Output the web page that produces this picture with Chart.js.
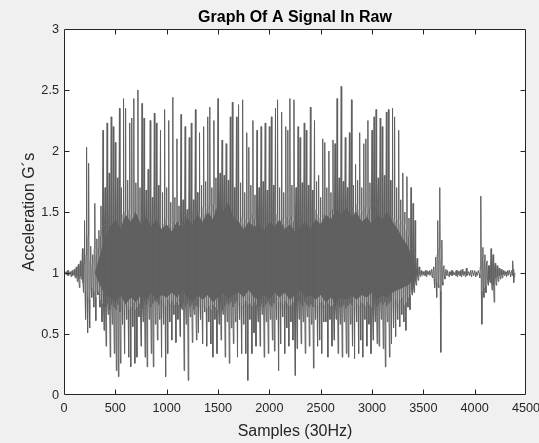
<!DOCTYPE html>
<html>
<head>
<meta charset="utf-8">
<script src="https://cdn.jsdelivr.net/npm/chart.js@4.4.1/dist/chart.umd.min.js"></script>
<style>
  html, body { margin: 0; padding: 0; background: #f0f0f0; }
  #wrap { width: 539px; height: 443px; position: relative; }
</style>
</head>
<body>
<div id="wrap"><canvas id="sig"></canvas></div>
<script>
const titleText = 'Graph Of A Signal In Raw';
const xLabel = 'Samples (30Hz)';
const yLabel = 'Acceleration G´s';
const xTicks = [0, 500, 1000, 1500, 2000, 2500, 3000, 3500, 4000, 4500];
const yTicks = [0, 0.5, 1, 1.5, 2, 2.5, 3];

// readings at samples 0, 10, 20 ... (peaks of the trace)
const sampleStep = 10;
const accel = [
  1.00, 0.99, 1.01, 0.98, 1.02, 0.99, 1.01, 0.97, 1.02, 0.99,
  1.03, 0.96, 1.05, 0.93, 1.07, 0.88, 1.10, 0.95, 1.20, 0.84,
  1.43, 0.62, 2.03, 0.51, 1.90, 0.55, 1.22, 0.80, 1.15, 0.72,
  1.57, 0.61, 1.28, 0.82, 1.35, 0.72, 1.55, 0.60, 2.17, 0.53,
  1.70, 0.40, 2.23, 0.66, 1.82, 0.31, 2.28, 0.58, 2.20, 0.34,
  2.07, 0.20, 1.78, 0.15, 2.35, 0.26, 1.70, 0.58, 2.43, 0.34,
  2.35, 0.62, 1.76, 0.31, 2.23, 0.23, 2.27, 0.56, 2.43, 0.26,
  1.74, 0.31, 2.50, 0.64, 1.70, 0.40, 2.39, 0.60, 2.27, 0.31,
  1.68, 0.23, 1.85, 0.62, 2.25, 0.34, 1.62, 0.23, 2.31, 0.58,
  2.23, 0.45, 1.72, 0.62, 2.17, 0.31, 1.66, 0.58, 2.34, 0.15,
  1.70, 0.34, 2.25, 0.60, 1.58, 0.45, 2.44, 0.66, 1.62, 0.43,
  2.10, 0.62, 1.55, 0.48, 2.30, 0.70, 1.60, 0.20, 2.20, 0.58,
  1.52, 0.12, 2.11, 0.64, 2.23, 0.43, 1.60, 0.66, 2.34, 0.45,
  1.66, 0.51, 2.15, 0.62, 1.72, 0.42, 2.20, 0.68, 1.75, 0.40,
  2.28, 0.60, 2.36, 0.42, 1.70, 0.31, 2.25, 0.62, 1.78, 0.34,
  2.43, 0.58, 1.82, 0.45, 2.09, 0.66, 1.80, 0.31, 2.06, 0.60,
  1.76, 0.26, 2.28, 0.55, 2.40, 0.42, 1.70, 0.60, 2.28, 0.31,
  2.38, 0.62, 1.74, 0.34, 2.42, 0.58, 1.66, 0.34, 2.15, 0.12,
  2.03, 0.62, 1.72, 0.34, 2.25, 0.51, 1.64, 0.40, 2.17, 0.60,
  1.70, 0.40, 2.20, 0.66, 1.75, 0.31, 2.23, 0.60, 1.68, 0.34,
  2.20, 0.62, 2.28, 0.45, 1.72, 0.36, 2.35, 0.62, 2.42, 0.20,
  1.70, 0.42, 2.32, 0.64, 1.66, 0.34, 2.20, 0.55, 2.17, 0.40,
  2.43, 0.60, 1.72, 0.45, 2.42, 0.16, 1.70, 0.38, 2.20, 0.62,
  2.11, 0.42, 1.74, 0.60, 2.23, 0.34, 2.17, 0.64, 1.72, 0.40,
  2.36, 0.58, 1.68, 0.22, 2.25, 0.62, 1.75, 0.40, 1.80, 0.45,
  1.62, 0.34, 2.10, 0.60, 2.07, 0.60, 1.70, 0.31, 2.00, 0.62,
  1.66, 0.40, 2.09, 0.45, 2.06, 0.62, 2.43, 0.34, 1.78, 0.58,
  2.53, 0.31, 1.75, 0.60, 2.11, 0.34, 1.70, 0.31, 2.15, 0.58,
  2.42, 0.40, 1.72, 0.30, 1.89, 0.60, 1.76, 0.34, 2.15, 0.45,
  1.70, 0.31, 2.06, 0.62, 2.10, 0.40, 2.25, 0.58, 1.74, 0.34,
  2.17, 0.45, 2.28, 0.60, 2.34, 0.42, 1.78, 0.40, 2.27, 0.62,
  2.20, 0.38, 1.80, 0.23, 2.32, 0.60, 2.34, 0.31, 1.76, 0.42,
  2.35, 0.55, 2.28, 0.48, 1.70, 0.62, 2.17, 0.56, 1.60, 0.66,
  1.82, 0.60, 1.50, 0.53, 1.79, 0.72, 1.45, 0.70, 1.70, 0.82,
  1.57, 0.84, 1.43, 0.90, 1.12, 0.94, 1.05, 0.97, 1.02, 0.98,
  1.01, 0.98, 1.02, 0.97, 1.01, 0.99, 1.02, 0.98, 1.03, 0.96,
  1.05, 0.88, 1.13, 0.80, 1.43, 0.88, 1.70, 0.35, 1.27, 0.90,
  1.06, 0.95, 1.03, 0.98, 1.02, 0.97, 1.01, 0.98, 1.02, 0.99,
  1.00, 0.98, 1.02, 0.97, 1.01, 0.98, 1.02, 0.97, 1.03, 0.98,
  1.01, 0.97, 1.04, 0.99, 1.01, 0.98, 1.02, 0.97, 1.01, 0.98,
  1.02, 0.97, 1.01, 0.98, 1.02, 0.96, 1.63, 0.58, 1.21, 0.80,
  1.15, 0.84, 1.10, 0.90, 1.06, 0.92, 1.20, 0.86, 1.15, 0.76,
  1.08, 0.90, 1.06, 0.93, 1.04, 0.95, 1.03, 0.96, 1.02, 0.98,
  1.01, 0.97, 1.02, 0.98, 1.01, 0.97, 1.02, 1.10, 0.92, 1.00
];

// readings at samples 5, 15, 25 ... (the dense core between peaks)
const accelMid = [
  1.01, 0.99, 1.00, 1.02, 0.98, 1.00, 0.99, 1.01, 0.98, 1.00,
  0.98, 1.03, 0.97, 1.04, 0.95, 1.06, 0.97, 1.05, 0.92, 1.08,
  0.85, 1.15, 0.80, 1.30, 0.78, 1.10, 0.88, 1.08, 0.85, 1.20,
  0.80, 1.15, 0.85, 1.20, 0.78, 1.30, 0.75, 1.38, 0.72, 1.40,
  0.72, 1.40, 0.75, 1.45, 0.70, 1.48, 0.74, 1.42, 0.72, 1.50,
  0.70, 1.52, 0.74, 1.46, 0.68, 1.55, 0.72, 1.48, 0.70, 1.50,
  0.74, 1.45, 0.70, 1.52, 0.72, 1.48, 0.76, 1.44, 0.70, 1.50,
  0.72, 1.46, 0.75, 1.40, 0.70, 1.48, 0.73, 1.45, 0.76, 1.42,
  0.74, 1.40, 0.78, 1.44, 0.72, 1.38, 0.75, 1.46, 0.77, 1.40,
  0.76, 1.38, 0.74, 1.42, 0.78, 1.36, 0.75, 1.40, 0.73, 1.44,
  0.78, 1.36, 0.75, 1.40, 0.77, 1.38, 0.74, 1.42, 0.76, 1.39,
  0.74, 1.42, 0.76, 1.45, 0.72, 1.40, 0.75, 1.47, 0.73, 1.44,
  0.75, 1.46, 0.72, 1.50, 0.74, 1.44, 0.70, 1.48, 0.73, 1.52,
  0.72, 1.50, 0.74, 1.46, 0.70, 1.54, 0.73, 1.48, 0.71, 1.52,
  0.73, 1.55, 0.70, 1.50, 0.74, 1.56, 0.72, 1.52, 0.70, 1.58,
  0.72, 1.60, 0.74, 1.55, 0.70, 1.58, 0.73, 1.52, 0.75, 1.50,
  0.74, 1.48, 0.76, 1.45, 0.72, 1.42, 0.75, 1.46, 0.77, 1.40,
  0.76, 1.42, 0.73, 1.46, 0.75, 1.40, 0.77, 1.44, 0.74, 1.42,
  0.75, 1.45, 0.73, 1.48, 0.76, 1.44, 0.74, 1.50, 0.72, 1.47,
  0.73, 1.50, 0.75, 1.46, 0.72, 1.52, 0.74, 1.48, 0.76, 1.45,
  0.74, 1.46, 0.72, 1.50, 0.75, 1.44, 0.73, 1.48, 0.76, 1.42,
  0.76, 1.42, 0.74, 1.45, 0.77, 1.40, 0.75, 1.46, 0.73, 1.44,
  0.74, 1.46, 0.76, 1.42, 0.73, 1.48, 0.75, 1.44, 0.77, 1.46,
  0.75, 1.48, 0.73, 1.52, 0.76, 1.46, 0.74, 1.50, 0.72, 1.48,
  0.74, 1.50, 0.72, 1.46, 0.75, 1.52, 0.73, 1.48, 0.76, 1.45,
  0.76, 1.44, 0.74, 1.48, 0.77, 1.42, 0.75, 1.46, 0.73, 1.50,
  0.73, 1.52, 0.75, 1.55, 0.72, 1.50, 0.74, 1.56, 0.72, 1.54,
  0.72, 1.58, 0.74, 1.55, 0.71, 1.60, 0.73, 1.56, 0.75, 1.52,
  0.74, 1.54, 0.72, 1.50, 0.75, 1.56, 0.73, 1.52, 0.76, 1.48,
  0.75, 1.50, 0.73, 1.54, 0.76, 1.48, 0.74, 1.52, 0.72, 1.56,
  0.73, 1.58, 0.75, 1.55, 0.72, 1.60, 0.74, 1.56, 0.76, 1.52,
  0.74, 1.55, 0.76, 1.50, 0.73, 1.52, 0.75, 1.48, 0.77, 1.46,
  0.76, 1.45, 0.78, 1.42, 0.75, 1.44, 0.78, 1.40, 0.80, 1.42,
  0.74, 1.40, 0.76, 1.35, 0.80, 1.30, 0.82, 1.25, 0.86, 1.20,
  0.88, 1.15, 0.93, 1.06, 0.97, 1.03, 0.99, 1.01, 0.99, 1.01,
  0.99, 1.01, 0.98, 1.02, 0.99, 1.01, 0.98, 1.02, 0.97, 1.03,
  0.95, 1.05, 0.92, 1.15, 0.90, 1.20, 0.85, 1.10, 0.93, 1.04,
  0.98, 1.01, 0.99, 1.02, 0.98, 1.01, 0.99, 1.02, 0.98, 1.01,
  0.99, 1.01, 0.98, 1.02, 0.99, 1.01, 0.98, 1.02, 0.99, 1.01,
  0.99, 1.02, 0.98, 1.01, 0.99, 1.01, 0.98, 1.02, 0.99, 1.01,
  0.99, 1.01, 0.98, 1.02, 0.99, 1.05, 0.85, 1.12, 0.88, 1.10,
  0.90, 1.08, 0.94, 1.06, 0.95, 1.05, 0.92, 1.08, 0.90, 1.04,
  0.96, 1.03, 0.97, 1.03, 0.98, 1.02, 0.98, 1.02, 0.99, 1.01,
  0.99, 1.01, 0.98, 1.02, 0.99, 1.01, 0.98, 1.03, 0.97, 1.00
];

// ragged edges of the solid dark core, read every 50 samples
const coreSamples = [300, 350, 400, 450, 500, 550, 600, 650, 700, 750, 800, 850, 900, 950,
  1000, 1050, 1100, 1150, 1200, 1250, 1300, 1350, 1400, 1450, 1500, 1550, 1600, 1650, 1700, 1750,
  1800, 1850, 1900, 1950, 2000, 2050, 2100, 2150, 2200, 2250, 2300, 2350, 2400, 2450, 2500, 2550,
  2600, 2650, 2700, 2750, 2800, 2850, 2900, 2950, 3000, 3050, 3100, 3150, 3200, 3250, 3300, 3350,
  3400, 3450];
const coreTop = [1.00, 1.15, 1.30, 1.38, 1.44, 1.36, 1.48, 1.42, 1.50, 1.40, 1.46, 1.38, 1.44, 1.36,
  1.40, 1.34, 1.42, 1.36, 1.45, 1.40, 1.48, 1.42, 1.50, 1.44, 1.56, 1.50, 1.58, 1.46, 1.42, 1.36,
  1.42, 1.38, 1.40, 1.35, 1.42, 1.38, 1.44, 1.36, 1.40, 1.34, 1.38, 1.42, 1.36, 1.44, 1.40, 1.48,
  1.44, 1.52, 1.48, 1.54, 1.46, 1.50, 1.42, 1.46, 1.40, 1.48, 1.44, 1.50, 1.42, 1.36, 1.28, 1.22,
  1.10, 1.00];
const coreBottom = [1.00, 0.90, 0.82, 0.80, 0.76, 0.82, 0.74, 0.80, 0.76, 0.82, 0.78, 0.84, 0.78, 0.82,
  0.80, 0.84, 0.80, 0.86, 0.80, 0.76, 0.82, 0.78, 0.82, 0.76, 0.80, 0.84, 0.78, 0.82, 0.84, 0.80,
  0.86, 0.80, 0.78, 0.82, 0.78, 0.84, 0.80, 0.84, 0.78, 0.82, 0.86, 0.80, 0.82, 0.78, 0.82, 0.76,
  0.80, 0.76, 0.80, 0.78, 0.82, 0.78, 0.82, 0.80, 0.84, 0.78, 0.82, 0.80, 0.84, 0.86, 0.88, 0.90,
  0.94, 1.00];

const fontFamily = "'Liberation Sans', Arial, Helvetica, sans-serif";
const axisColor = '#262626';
const traceColor = '#606060';

// white axes background, box and inward tick marks like matlab
const axesBox = {
  id: 'axesBox',
  beforeDatasetsDraw(chart) {
    const { ctx, chartArea: a } = chart;
    ctx.save();
    ctx.fillStyle = '#ffffff';
    ctx.fillRect(a.left, a.top, a.right - a.left, a.bottom - a.top);
    ctx.restore();
  },
  afterDatasetsDraw(chart) {
    const { ctx, chartArea: a, scales } = chart;
    const L = Math.round(a.left) + 0.5, R = Math.round(a.right) - 0.5;
    const T = Math.round(a.top) + 0.5, B = Math.round(a.bottom) - 0.5;
    const len = 5;
    ctx.save();
    ctx.strokeStyle = axisColor;
    ctx.lineWidth = 1;
    ctx.beginPath();
    ctx.rect(L, T, R - L, B - T);
    xTicks.forEach(function (v) {
      const px = Math.round(scales.x.getPixelForValue(v)) + 0.5;
      if (px <= L + 1 || px >= R - 1) return;
      ctx.moveTo(px, B); ctx.lineTo(px, B - len);
      ctx.moveTo(px, T); ctx.lineTo(px, T + len);
    });
    yTicks.forEach(function (v) {
      const py = Math.round(scales.y.getPixelForValue(v)) + 0.5;
      if (py <= T + 1 || py >= B - 1) return;
      ctx.moveTo(L, py); ctx.lineTo(L + len, py);
      ctx.moveTo(R, py); ctx.lineTo(R - len, py);
    });
    ctx.stroke();
    ctx.restore();
  }
};

// interleave peaks and core readings into one trace
const trace = [];
accel.forEach(function (v, i) {
  trace.push({ x: i * sampleStep, y: v });
  trace.push({ x: i * sampleStep + sampleStep / 2, y: accelMid[i] });
});

new Chart(document.getElementById('sig'), {
  type: 'line',
  data: {
    datasets: [{
      data: trace,
      borderColor: traceColor,
      borderWidth: 1,
      borderJoinStyle: 'bevel',
      pointRadius: 0,
      tension: 0,
      fill: false
    }, {
      data: coreSamples.map(function (s, i) { return { x: s, y: coreTop[i] }; }),
      borderWidth: 0,
      pointRadius: 0,
      fill: false
    }, {
      data: coreSamples.map(function (s, i) { return { x: s, y: coreBottom[i] }; }),
      borderWidth: 0,
      pointRadius: 0,
      backgroundColor: traceColor,
      fill: 1
    }]
  },
  options: {
    responsive: true,
    maintainAspectRatio: false,
    animation: false,
    events: [],
    layout: { padding: { left: 0, right: 13, top: 0, bottom: 0 } },
    plugins: {
      legend: { display: false },
      tooltip: { enabled: false },
      title: {
        display: true,
        text: titleText,
        color: '#000000',
        fullSize: false,
        font: { family: fontFamily, size: 16, weight: 'bold', lineHeight: 1.25 },
        padding: { top: 8, bottom: 1 }
      }
    },
    scales: {
      x: {
        type: 'linear',
        min: 0,
        max: 4500,
        afterBuildTicks: function (s) { s.ticks = xTicks.map(function (v) { return { value: v }; }); },
        afterFit: function (s) { s.height = 48; s.paddingLeft = 0; s.paddingRight = 0; },
        grid: { display: false, drawTicks: false },
        border: { display: false },
        ticks: {
          color: axisColor,
          font: { family: fontFamily, size: 12.7 },
          padding: 6,
          maxRotation: 0,
          autoSkip: false,
          callback: function (v) { return String(v); }
        },
        title: {
          display: true,
          text: xLabel,
          color: axisColor,
          font: { family: fontFamily, size: 16, lineHeight: 1.25 },
          padding: { top: 0, bottom: 1 }
        }
      },
      y: {
        min: 0,
        max: 3,
        afterBuildTicks: function (s) { s.ticks = yTicks.map(function (v) { return { value: v }; }); },
        afterFit: function (s) { s.width = 64; s.paddingTop = 0; s.paddingBottom = 0; },
        grid: { display: false, drawTicks: false },
        border: { display: false },
        ticks: {
          color: axisColor,
          font: { family: fontFamily, size: 12.7 },
          padding: 5,
          autoSkip: false,
          callback: function (v) { return String(v); }
        },
        title: {
          display: true,
          text: yLabel,
          color: axisColor,
          font: { family: fontFamily, size: 16, lineHeight: 1.25 },
          padding: { top: 20, bottom: 0 }
        }
      }
    }
  },
  plugins: [axesBox]
});
</script>
</body>
</html>
